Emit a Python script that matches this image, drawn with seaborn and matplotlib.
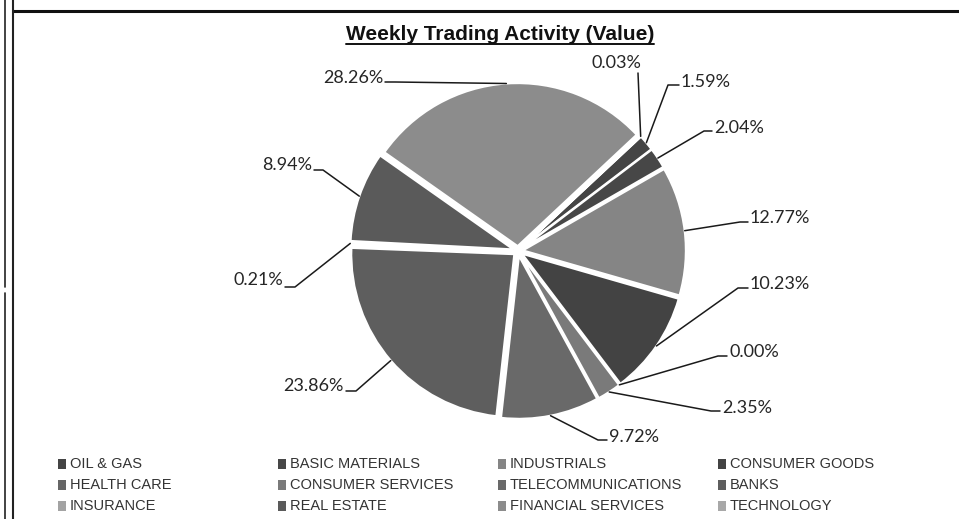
import numpy as np
import matplotlib
matplotlib.use("Agg")
import matplotlib.pyplot as plt
import matplotlib.transforms as mtransforms
from matplotlib.lines import Line2D
from matplotlib.patches import Rectangle
import seaborn as sns

# data (legend order = clockwise slice order)
sectors = ["OIL & GAS", "BASIC MATERIALS", "INDUSTRIALS", "CONSUMER GOODS",
           "HEALTH CARE", "CONSUMER SERVICES", "TELECOMMUNICATIONS", "BANKS",
           "INSURANCE", "REAL ESTATE", "FINANCIAL SERVICES", "TECHNOLOGY"]
shares = [1.59, 2.04, 12.77, 10.23, 0.00, 2.35, 9.72, 23.86, 0.21, 8.94, 28.26, 0.03]
greys = ["#444444", "#474747", "#858585", "#434343", "#666666", "#7a7a7a",
         "#696969", "#5e5e5e", "#a3a3a3", "#5a5a5a", "#8c8c8c", "#a8a8a8"]

# label layout in image pixels (x, y, ha), leader elbow, leader end
label_layout = [
    (681, 82, "left", (668, 85), (679, 85)),
    (714, 128, "left", (704, 131), (712, 131)),
    (750, 218, "left", (740, 222), (748, 222)),
    (750, 284, "left", (738, 288), (748, 288)),
    (729, 352, "left", (718, 356), (727, 356)),
    (722, 408, "left", (711, 411), (720, 411)),
    (609, 437, "left", (598, 440), (607, 440)),
    (344, 386, "right", (356, 391), (346, 391)),
    (283, 280, "right", (295, 287), (285, 287)),
    (312, 165, "right", (323, 170), (314, 170)),
    (383, 78, "right", (395, 82), (385, 82)),
    (616, 63, "center", (638, 73), (638, 73)),
]

W, H = 959, 519
sns.set_theme(style="white")
plt.rcParams["font.family"] = ["Liberation Sans", "DejaVu Sans"]

fig = plt.figure(figsize=(W / 100, H / 100), dpi=100)
fig.patch.set_facecolor("white")

cx, cy, R = 518, 251, 163
ax = fig.add_axes([(cx - R) / W, (H - cy - R) / H, 2 * R / W, 2 * R / H])
wedges, _ = ax.pie(shares, colors=greys, startangle=43, counterclock=False,
                   explode=[0.03] * len(shares),
                   wedgeprops=dict(edgecolor="white", linewidth=1.5))
ax.set_xlim(-1, 1)
ax.set_ylim(-1, 1)
ax.set_aspect("equal")
ax.axis("off")

ident = mtransforms.IdentityTransform()

# percentage labels with leader lines
for w, v, (tx, ty, ha, elbow, end) in zip(wedges, shares, label_layout):
    mid = np.deg2rad((w.theta1 + w.theta2) / 2)
    px, py = ax.transData.transform((w.center[0] + w.r * np.cos(mid),
                                     w.center[1] + w.r * np.sin(mid)))
    xs = [px, elbow[0], end[0]]
    ys = [py, H - elbow[1], H - end[1]]
    fig.add_artist(Line2D(xs, ys, transform=ident, color="#1a1a1a", lw=1.1))
    fig.text(tx / W, 1 - ty / H, f"{v:.2f}%", ha=ha, va="center",
             fontsize=13, family=["Lato", "DejaVu Sans"], color="#262626")

# title with underline
title = fig.text(500 / W, 1 - 35 / H, "Weekly Trading Activity (Value)",
                 ha="center", va="center", fontsize=15, fontweight="bold",
                 color="#111111")
fig.canvas.draw()
bb = title.get_window_extent()
fig.add_artist(Line2D([bb.x0, bb.x1], [bb.y0 + 1, bb.y0 + 1], transform=ident,
                      color="#111111", lw=1.4))

# legend (row-wise, 4 columns)
for i, (name, c) in enumerate(zip(sectors, greys)):
    col, row = i % 4, i // 4
    x0 = 58 + 220 * col
    yc = 464 + 21 * row
    fig.patches.append(Rectangle((x0, H - yc - 5), 8, 10, transform=ident,
                                 facecolor=c, edgecolor="none", figure=fig))
    fig.text((x0 + 12) / W, 1 - yc / H, name, ha="left", va="center",
             fontsize=10.5, color="#333333")

# page borders from the scanned document
fig.add_artist(Line2D([13, W], [H - 10.5, H - 10.5], transform=ident, color="#111111", lw=2.2))
fig.add_artist(Line2D([13, 13], [0, H], transform=ident, color="#222222", lw=1.5))
fig.add_artist(Line2D([5, 5], [0, H - 293], transform=ident, color="#222222", lw=1.2))
fig.add_artist(Line2D([5, 5], [H - 287, H], transform=ident, color="#222222", lw=1.2))

fig.savefig("out.png", dpi=100, facecolor="white")
